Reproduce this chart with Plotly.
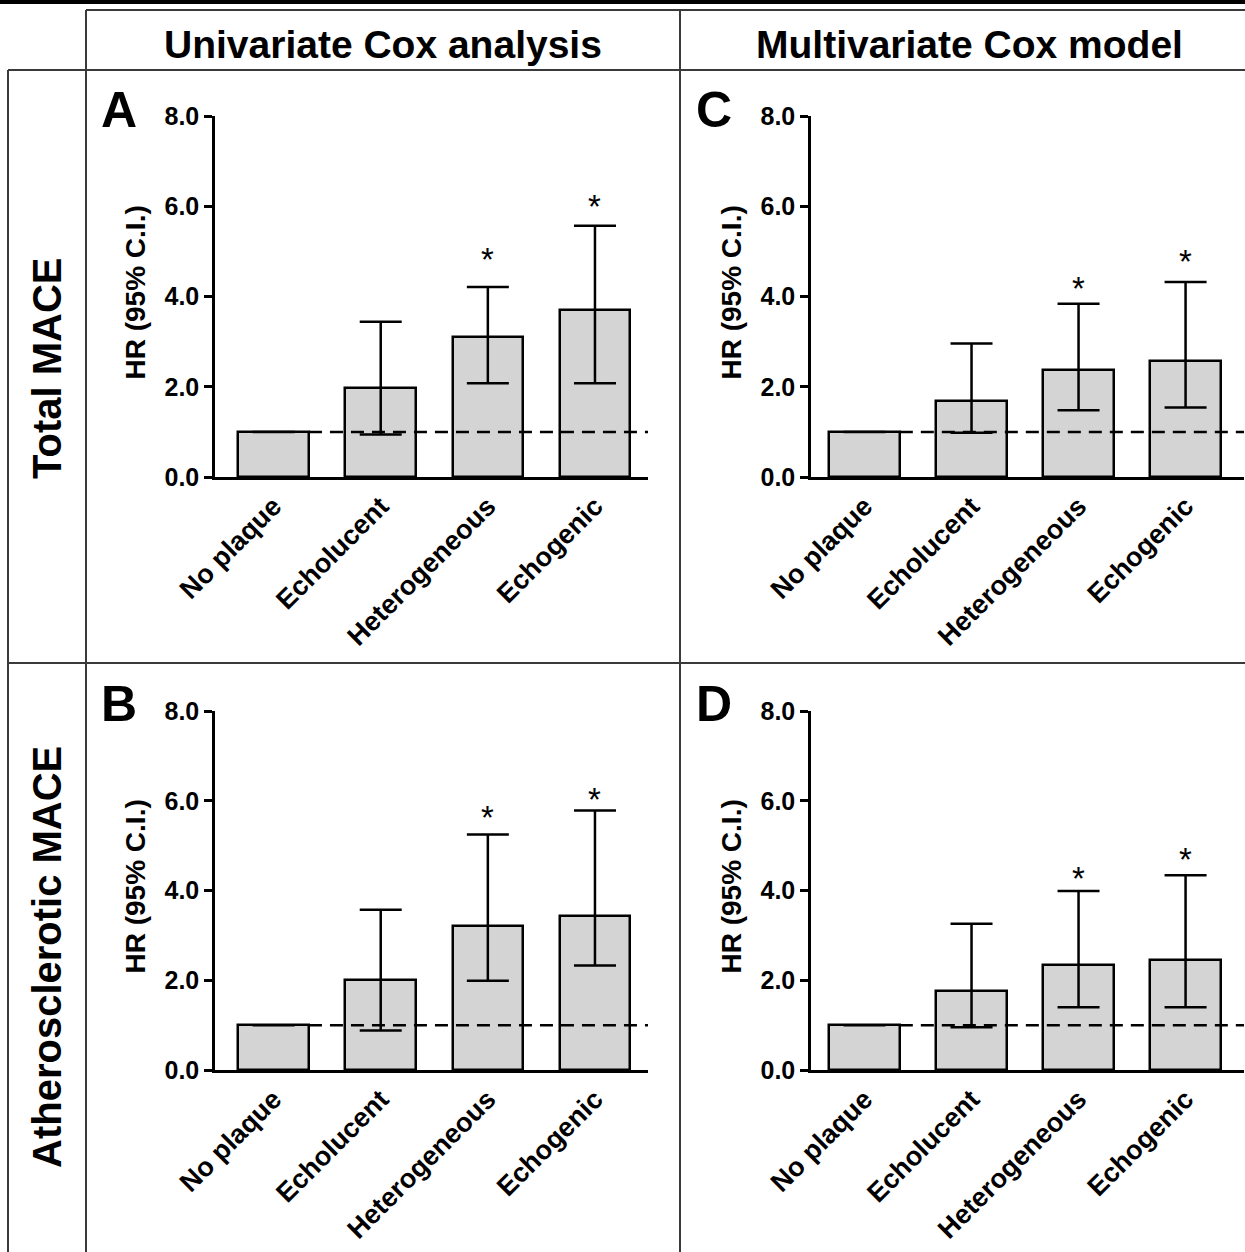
import plotly.graph_objects as go

W, H = 1245, 1252

categories = ["No plaque", "Echolucent", "Heterogeneous", "Echogenic"]
y_ticks = [0, 2, 4, 6, 8]
y_ticklabels = ["0.0", "2.0", "4.0", "6.0", "8.0"]

# Panel A: Total MACE, univariate
hr_A = [1.0, 1.98, 3.10, 3.71]
lo_A = [1.0, 0.94, 2.08, 2.08]
hi_A = [1.0, 3.44, 4.21, 5.57]
star_A = [None, None, 4.99, 6.17]

# Panel C: Total MACE, multivariate
hr_C = [1.0, 1.69, 2.38, 2.57]
lo_C = [1.0, 0.98, 1.48, 1.54]
hi_C = [1.0, 2.96, 3.84, 4.32]
star_C = [None, None, 4.36, 4.95]

# Panel B: Atherosclerotic MACE, univariate
hr_B = [1.0, 2.00, 3.22, 3.44]
lo_B = [1.0, 0.88, 1.99, 2.33]
hi_B = [1.0, 3.57, 5.25, 5.78]
star_B = [None, None, 5.80, 6.20]

# Panel D: Atherosclerotic MACE, multivariate
hr_D = [1.0, 1.77, 2.35, 2.46]
lo_D = [1.0, 0.95, 1.40, 1.40]
hi_D = [1.0, 3.26, 3.99, 4.34]
star_D = [None, None, 4.45, 4.86]

ref_line = 1.0

col_titles = ["Univariate Cox analysis", "Multivariate Cox model"]
row_titles = ["Total MACE", "Atherosclerotic MACE"]
y_title = "HR (95% C.I.)"

FONT = "Liberation Sans, Arial, Helvetica, sans-serif"

def px_x(p):
    return p / W

def px_y(p):
    return 1 - p / H

panels = [
    dict(hr=hr_A, lo=lo_A, hi=hi_A, star=star_A, letter="A",
         x0=215, x1=648, yt=116, yb=477, xr=[-0.547, 3.495], lx=119, ly=110),
    dict(hr=hr_C, lo=lo_C, hi=hi_C, star=star_C, letter="C",
         x0=811, x1=1244, yt=116, yb=477, xr=[-0.50, 3.546], lx=714, ly=110),
    dict(hr=hr_B, lo=lo_B, hi=hi_B, star=star_B, letter="B",
         x0=215, x1=648, yt=711, yb=1070, xr=[-0.547, 3.495], lx=119, ly=704),
    dict(hr=hr_D, lo=lo_D, hi=hi_D, star=star_D, letter="D",
         x0=811, x1=1244, yt=711, yb=1070, xr=[-0.50, 3.546], lx=714, ly=704),
]

fig = go.Figure()
annotations = []
shapes = []

for i, p in enumerate(panels):
    n = i + 1
    xa = "x" if n == 1 else f"x{n}"
    ya = "y" if n == 1 else f"y{n}"
    xpos = list(range(len(categories)))
    err_plus = [h - v for h, v in zip(p["hi"], p["hr"])]
    err_minus = [v - l for v, l in zip(p["hr"], p["lo"])]
    fig.add_trace(go.Bar(
        x=xpos, y=p["hr"], width=0.66,
        marker=dict(color="#d4d4d4", line=dict(color="black", width=2.5)),
        error_y=dict(type="data", symmetric=False, array=err_plus,
                     arrayminus=err_minus, color="black", thickness=2.5, width=21),
        xaxis=xa, yaxis=ya, showlegend=False, hoverinfo="skip",
    ))
    sx = [j for j, s in enumerate(p["star"]) if s is not None]
    sy = [s for s in p["star"] if s is not None]
    for xx, yy in zip(sx, sy):
        annotations.append(dict(x=xx, y=yy, xref=xa, yref=ya, text="*",
                                showarrow=False, yanchor="middle", yshift=-8,
                                font=dict(family=FONT, size=33, color="black")))
    shapes.append(dict(type="line", xref=xa, yref=ya, x0=0.33, x1=p["xr"][1] + 0.05,
                       y0=ref_line, y1=ref_line,
                       line=dict(color="black", width=2.5, dash="13px,8px"),
                       layer="above"))
    axis_key_x = "xaxis" if n == 1 else f"xaxis{n}"
    axis_key_y = "yaxis" if n == 1 else f"yaxis{n}"
    fig.update_layout(**{
        axis_key_x: dict(domain=[px_x(p["x0"]), px_x(p["x1"])], range=p["xr"],
                         anchor=ya, tickmode="array", tickvals=xpos, ticktext=categories,
                         tickangle=-45, ticks="", showline=True, linecolor="black",
                         linewidth=2.5, showgrid=False, zeroline=False, automargin=False,
                         tickfont=dict(family=FONT, size=27, color="black", weight="bold")),
        axis_key_y: dict(domain=[px_y(p["yb"]), px_y(p["yt"])], range=[0, 8],
                         anchor=xa, tickmode="array", tickvals=y_ticks, ticktext=y_ticklabels,
                         ticks="outside", ticklen=8, tickwidth=2.5, tickcolor="black",
                         showline=True, linecolor="black", linewidth=2.5, automargin=False,
                         showgrid=False, zeroline=False,
                         tickfont=dict(family=FONT, size=25, color="black", weight="bold")),
    })
    annotations.append(dict(x=px_x(p["x0"] - 80), y=px_y((p["yt"] + p["yb"]) / 2 - 4),
                            xref="paper", yref="paper", text=y_title, textangle=-90,
                            showarrow=False, xanchor="center", yanchor="middle",
                            font=dict(family=FONT, size=28, color="black", weight="bold")))
    annotations.append(dict(x=px_x(p["lx"]), y=px_y(p["ly"]), xref="paper", yref="paper",
                            text=p["letter"], showarrow=False, xanchor="center",
                            yanchor="middle",
                            font=dict(family=FONT, size=50, color="black", weight="bold")))

for txt, cx in zip(col_titles, [383, 969]):
    annotations.append(dict(x=px_x(cx), y=px_y(44), xref="paper", yref="paper", text=txt,
                            showarrow=False, xanchor="center", yanchor="middle",
                            font=dict(family=FONT, size=39, color="black", weight="bold")))
for txt, cy in zip(row_titles, [369, 957]):
    annotations.append(dict(x=px_x(47), y=px_y(cy), xref="paper", yref="paper", text=txt,
                            textangle=-90, showarrow=False, xanchor="center", yanchor="middle",
                            font=dict(family=FONT, size=40, color="black", weight="bold")))

LC = "#3a3a3a"
def pline(x0, y0, x1, y1, w=2):
    shapes.append(dict(type="line", xref="paper", yref="paper",
                       x0=px_x(x0), y0=px_y(y0), x1=px_x(x1), y1=px_y(y1),
                       line=dict(color=LC, width=w)))

shapes.append(dict(type="rect", xref="paper", yref="paper", x0=0, x1=1,
                   y0=px_y(4), y1=1, fillcolor="black", line=dict(width=0)))
pline(86, 10, W, 10)
pline(86, 10, 86, H)
pline(680, 10, 680, H)
pline(8, 70, W, 70)
pline(8, 663, W, 663)
pline(8, 70, 8, H)

fig.update_layout(width=W, height=H, margin=dict(l=0, r=0, t=0, b=0, autoexpand=False),
                  paper_bgcolor="white", plot_bgcolor="rgba(0,0,0,0)",
                  showlegend=False, annotations=annotations, shapes=shapes,
                  bargap=0)

fig.write_html("out.html")
